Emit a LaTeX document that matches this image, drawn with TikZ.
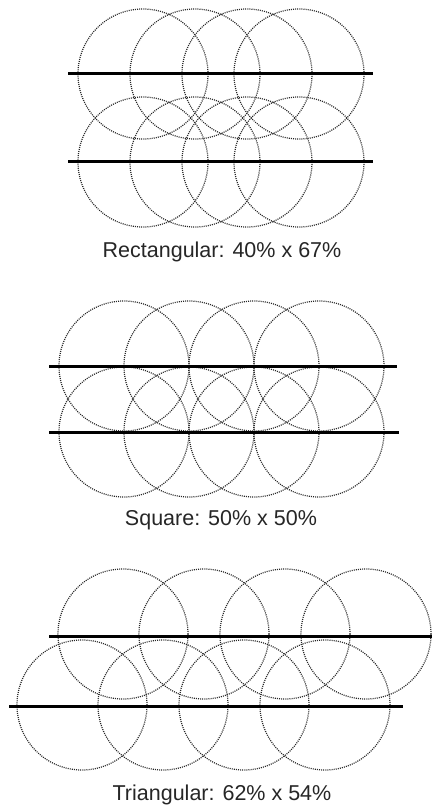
\documentclass[tikz,border=0pt]{standalone}
\usepackage{fontspec}
\setmainfont{Liberation Sans}
\begin{document}
\begin{tikzpicture}[x=1pt,y=-1pt,
  dotcirc/.style={draw=black!85, line width=1.2pt, dash pattern=on 1pt off 1.1pt},
  rowline/.style={draw=black, line width=3pt},
  caption/.style={anchor=base, font=\fontsize{21.5}{24}\selectfont, text=black!85, inner sep=0pt}]
\useasboundingbox (0,0) rectangle (432,805);
% Rectangular
\foreach \x in {143,195,247,299} {
  \draw[dotcirc] (\x,74) circle[radius=65pt];
  \draw[dotcirc] (\x,162) circle[radius=65pt];
}
\draw[rowline] (68,74) -- (373,74);
\draw[rowline] (68,162) -- (373,162);
\node[caption] (c1) at (222,257) {Rectangular: 40\% x 67\%};
% Square
\foreach \x in {124,189,254,319} {
  \draw[dotcirc] (\x,366) circle[radius=65pt];
  \draw[dotcirc] (\x,432) circle[radius=65pt];
}
\draw[rowline] (49,366) -- (397,366);
\draw[rowline] (49,432) -- (399,432);
\node[caption] (c2) at (221,525) {Square: 50\% x 50\%};
% Triangular
\foreach \x in {123,204,285,366} {
  \draw[dotcirc] (\x,634) circle[radius=65pt];
}
\foreach \x in {82,163,244,325} {
  \draw[dotcirc] (\x,705) circle[radius=65pt];
}
\draw[rowline] (49,636) -- (432,636);
\draw[rowline] (9,706) -- (403,706);
\node[caption] (c3) at (222,800) {Triangular: 62\% x 54\%};
\end{tikzpicture}
\end{document}
